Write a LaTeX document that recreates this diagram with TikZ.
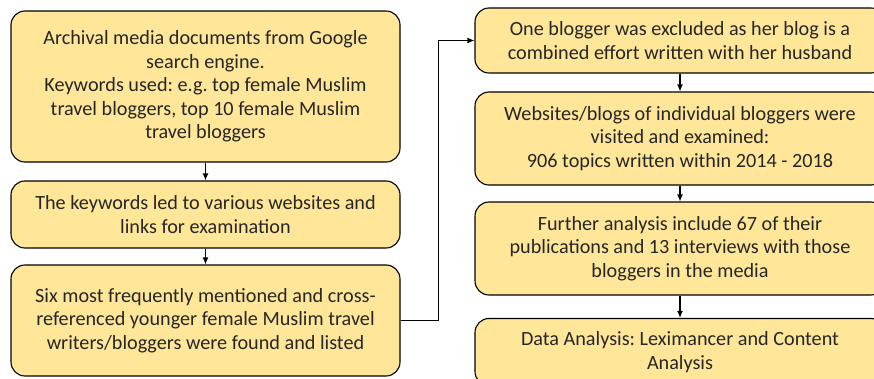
\documentclass[tikz,border=0pt]{standalone}
\usepackage{fontspec}
\setmainfont{Carlito}
\frenchspacing
\definecolor{boxfill}{HTML}{FFE699}
\tikzset{stagebox/.style={draw=black,line width=1.1pt,fill=boxfill,rounded corners=14pt,align=center,inner sep=2pt,font=\fontsize{20.2}{23.4}\selectfont,text=black!85}}
\tikzset{flow/.style={-{Latex[length=7pt,width=6pt]},line width=1.2pt}}
\usetikzlibrary{arrows.meta}
\begin{document}
\begin{tikzpicture}[x=1pt,y=-1pt]
\useasboundingbox (0,0) rectangle (874,379);
\clip (0,0) rectangle (874,379);
\node[stagebox,minimum width=389pt,minimum height=151pt] (arch) at (205.5,86.5) {Archival media documents from Google\\search engine.\\Keywords used: e.g. top female Muslim\\travel bloggers, top 10 female Muslim\\travel bloggers};
\node[stagebox,minimum width=389pt,minimum height=67pt] (keys) at (205.5,214.5) {The keywords led to various websites and\\links for examination};
\node[stagebox,minimum width=389pt,minimum height=111pt] (six) at (205.5,320.5) {Six most frequently mentioned and cross-\\referenced younger female Muslim travel\\writers/bloggers were found and listed};
\node[stagebox,minimum width=410pt,minimum height=65pt] (excl) at (680,40.5) {One blogger was excluded as her blog is a\\combined effort written with her husband};
\node[stagebox,minimum width=410pt,minimum height=93pt] (visit) at (680,138.5) {Websites/blogs of individual bloggers were\\visited and examined:\\906 topics written within 2014 - 2018};
\node[stagebox,minimum width=410pt,minimum height=93pt] (further) at (680,248.5) {Further analysis include 67 of their\\publications and 13 interviews with those\\bloggers in the media};
\node[stagebox,minimum width=410pt,minimum height=67pt] (data) at (680,352) {Data Analysis: Leximancer and Content\\Analysis};
\draw[flow] (arch) -- (keys);
\draw[flow] (keys) -- (six);
\draw[flow] (six.east) -- ++(38,0) |- (excl.west);
\draw[flow] (excl) -- (visit);
\draw[flow] (visit) -- (further);
\draw[flow] (further) -- (data);
\end{tikzpicture}
\end{document}
